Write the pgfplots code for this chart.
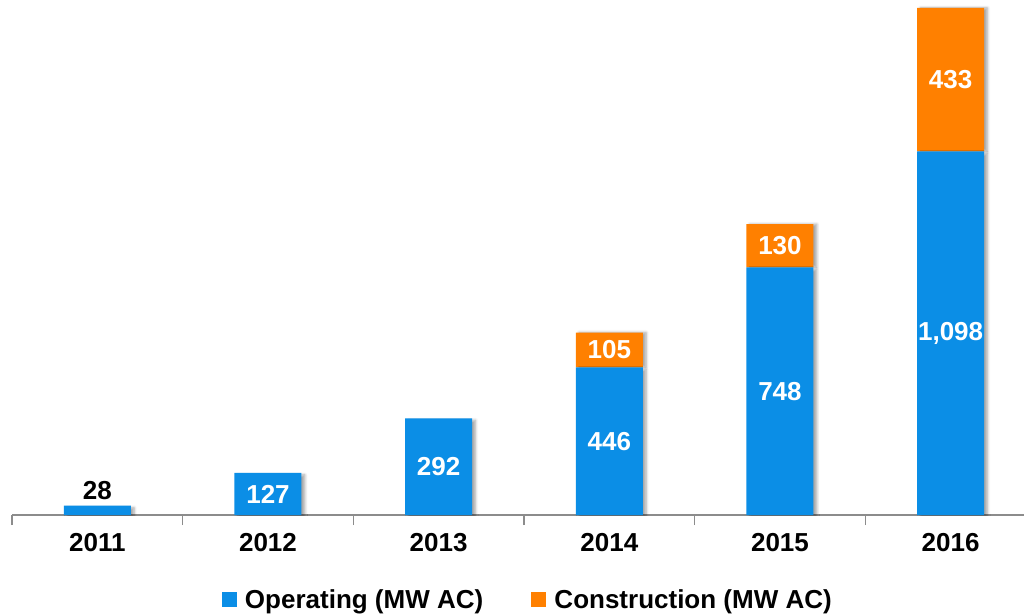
\documentclass[border=0pt]{standalone}
\usepackage{pgfplots}
\pgfplotsset{compat=1.18}
\usepackage{fontspec}
\setmainfont{Liberation Sans}
\usetikzlibrary{shadows,shadows.blur}
\definecolor{opblue}{HTML}{0B8EE6}
\definecolor{conorange}{HTML}{FF8000}
\definecolor{axgray}{HTML}{8C8C8C}
\newcommand{\lblfont}{\fontsize{19.5}{23}\selectfont\bfseries}
\begin{document}
\begin{tikzpicture}
\pgfplotsset{
  common/.style={
    scale only axis, width=759pt, height=386.25pt,
    xmin=-0.5, xmax=5.43, ymin=0, ymax=1555,
  }
}
\begin{axis}[common, name=ax,
  ybar stacked, bar width=50.25pt,
  axis x line*=bottom, hide y axis,
  axis line style={axgray, line width=1.5pt},
  xtick={0,1,2,3,4,5},
  xticklabels={2011,2012,2013,2014,2015,2016},
  major tick length=0pt,
  minor xtick={-0.5,0.5,1.5,2.5,3.5,4.5},
  minor tick length=7.5pt,
  tick align=outside,
  minor tick style={axgray, line width=1.2pt},
  xticklabel style={font=\lblfont, yshift=-10pt},
  legend columns=2,
  legend style={draw=none, fill=none, at={(0.51,-0.165)}, anchor=center,
    font=\lblfont, /tikz/every even column/.append style={column sep=34pt},
    inner sep=0pt},
]
\addplot[forget plot, fill=opblue, draw=none,
  blur shadow={shadow xshift=2.5pt, shadow yshift=-1.5pt, shadow blur radius=2pt, shadow blur steps=6, shadow opacity=35}]
  coordinates {(0,28) (1,127) (2,292) (3,446) (4,748) (5,1098)};
\addplot[forget plot, fill=conorange, draw=none,
  blur shadow={shadow xshift=2.5pt, shadow yshift=0pt, shadow blur radius=2pt, shadow blur steps=6, shadow opacity=35}]
  coordinates {(0,0) (1,0) (2,0) (3,105) (4,130) (5,433)};
\addlegendimage{legend image code/.code={\fill[opblue] (0pt,-5pt) rectangle (10.5pt,5.5pt); \path (15pt,0pt);}}
\addlegendentry{Operating (MW AC)}
\addlegendimage{legend image code/.code={\fill[conorange] (0pt,-5pt) rectangle (10.5pt,5.5pt); \path (15pt,0pt);}}
\addlegendentry{Construction (MW AC)}
\end{axis}
\begin{axis}[common, hide axis]
\addplot[only marks, mark=none, nodes near coords, point meta=explicit symbolic,
  every node near coord/.style={anchor=center, font=\lblfont, text=black}]
  coordinates {(0,75)[28]};
\addplot[only marks, mark=none, nodes near coords, point meta=explicit symbolic,
  every node near coord/.style={anchor=center, font=\lblfont, text=white}]
  coordinates {(1,63.5)[127] (2,146)[292] (3,223)[446] (4,374)[748] (5,549)[{1,098}]
   (3,498.5)[105] (4,813)[130] (5,1314.5)[433]};
\end{axis}
\path ([xshift=-9pt]ax.south west) ++(0,-75pt);
\path (ax.north east);
\end{tikzpicture}
\end{document}
